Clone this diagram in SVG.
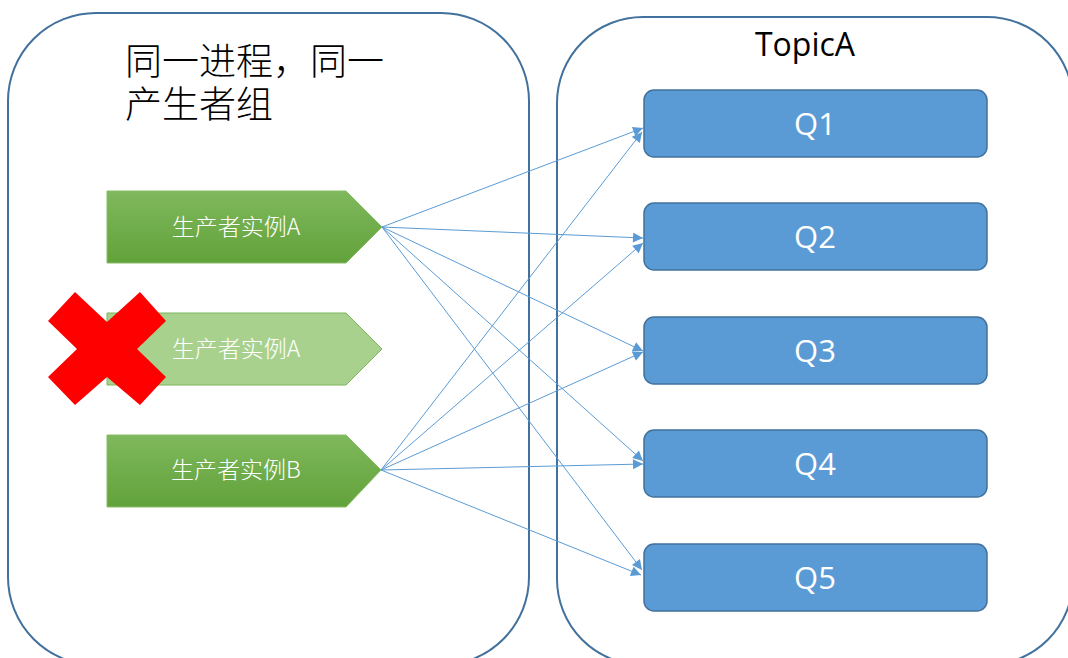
<svg xmlns="http://www.w3.org/2000/svg" width="1068" height="658" viewBox="0 0 1068 658">
  <defs>
    <linearGradient id="greenFill" x1="0" y1="0" x2="0" y2="1">
      <stop offset="0" stop-color="#7fb85d"/>
      <stop offset="1" stop-color="#62a23a"/>
    </linearGradient>
    <marker id="arrow" viewBox="0 0 10 10" refX="10" refY="5" markerWidth="11" markerHeight="10" markerUnits="userSpaceOnUse" orient="auto">
      <path d="M0,0 L10,5 L0,10 Z" fill="#5b9bd5"/>
    </marker>
    <style>
      .container { fill: #ffffff; stroke: #41719c; stroke-width: 2; }
      .title { font-family: "Liberation Sans", "Noto Sans CJK SC", sans-serif; font-weight: 300; font-size: 37px; fill: #000000; }
      .topic { font-family: "Open Sans", "Liberation Sans", sans-serif; font-size: 32px; fill: #000000; text-anchor: middle; }
      .producer { fill: url(#greenFill); stroke: #86bd67; stroke-width: 1; }
      .producer-down { fill: #a9d18e; stroke: #7fb55c; stroke-width: 1; }
      .plabel { font-family: "Noto Sans CJK SC", "Open Sans", sans-serif; font-weight: 300; font-size: 23px; fill: #ffffff; text-anchor: middle; }
      .queue { fill: #5b9bd5; stroke: #41719c; stroke-width: 1.5; }
      .qlabel { font-family: "Open Sans", "Liberation Sans", sans-serif; font-size: 31px; fill: #ffffff; text-anchor: middle; }
      .link { stroke: #5b9bd5; stroke-width: 1; fill: none; marker-end: url(#arrow); }
      .cross { fill: #ff0000; }
    </style>
  </defs>

  <rect width="1068" height="658" fill="#ffffff"/>

  <!-- producer group container -->
  <g id="producer-group">
    <rect class="container" x="8" y="13" width="521" height="652" rx="88" ry="88"/>
    <text class="title" x="125" y="75">同一进程，同一</text>
    <text class="title" x="125" y="118">产生者组</text>
  </g>

  <!-- topic container -->
  <g id="topic">
    <rect class="container" x="557" y="17" width="516" height="648" rx="86" ry="86"/>
    <text class="topic" x="805" y="56">TopicA</text>
  </g>

  <!-- connectors -->
  <g id="connectors">
    <line class="link" x1="382" y1="227" x2="643" y2="128"/>
    <line class="link" x1="382" y1="227" x2="643" y2="238"/>
    <line class="link" x1="382" y1="227" x2="643" y2="351"/>
    <line class="link" x1="382" y1="227" x2="643" y2="461"/>
    <line class="link" x1="382" y1="227" x2="642" y2="570"/>
    <line class="link" x1="381" y1="470" x2="642" y2="132"/>
    <line class="link" x1="381" y1="470" x2="643" y2="243"/>
    <line class="link" x1="381" y1="470" x2="643" y2="352"/>
    <line class="link" x1="381" y1="470" x2="643" y2="464"/>
    <line class="link" x1="381" y1="470" x2="641" y2="575"/>
  </g>

  <!-- producers -->
  <g id="producer-a1">
    <polygon class="producer" points="107,191 346,191 382,227 346,263 107,263"/>
    <text class="plabel" x="236" y="235">生产者实例A</text>
  </g>
  <g id="producer-a2">
    <polygon class="producer-down" points="107,313 346,313 382,349 346,385 107,385"/>
    <text class="plabel" x="236" y="357">生产者实例A</text>
  </g>
  <g id="producer-b">
    <polygon class="producer" points="107,435 346,435 381,470 346,507 107,507"/>
    <text class="plabel" x="236" y="478">生产者实例B</text>
  </g>

  <!-- failure mark over the stopped instance -->
  <g id="failure-mark">
    <polygon class="cross" points="75,292 107,322 140,292 166,321 137,349 166,377 140,405 107,377 75,405 48,377 77,349 48,321"/>
  </g>

  <!-- queues -->
  <g id="q1">
    <rect class="queue" x="644" y="90" width="343" height="67" rx="10" ry="10"/>
    <text class="qlabel" x="815" y="135">Q1</text>
  </g>
  <g id="q2">
    <rect class="queue" x="644" y="203" width="343" height="67" rx="10" ry="10"/>
    <text class="qlabel" x="815" y="248">Q2</text>
  </g>
  <g id="q3">
    <rect class="queue" x="644" y="317" width="343" height="67" rx="10" ry="10"/>
    <text class="qlabel" x="815" y="362">Q3</text>
  </g>
  <g id="q4">
    <rect class="queue" x="644" y="430" width="343" height="67" rx="10" ry="10"/>
    <text class="qlabel" x="815" y="475">Q4</text>
  </g>
  <g id="q5">
    <rect class="queue" x="644" y="544" width="343" height="67" rx="10" ry="10"/>
    <text class="qlabel" x="815" y="589">Q5</text>
  </g>
</svg>
